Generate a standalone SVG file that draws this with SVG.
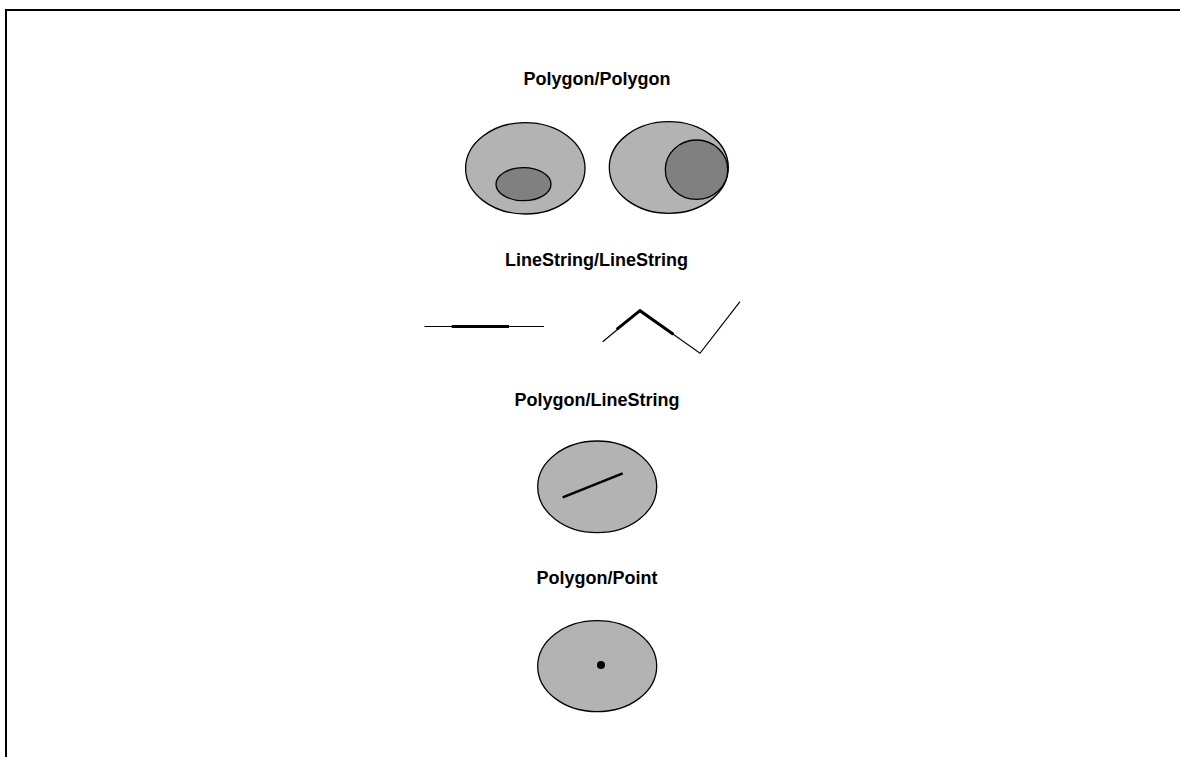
<svg xmlns="http://www.w3.org/2000/svg" width="1180" height="757" viewBox="0 0 1180 757">
<style>
.t{font-family:"Liberation Sans",Arial,sans-serif;font-weight:bold;font-size:18px;fill:#000;text-anchor:middle}
.big{fill:#b3b3b3;stroke:#000;stroke-width:1.3}
.small{fill:#808080;stroke:#000;stroke-width:1.3}
.ln{fill:none;stroke:#000;stroke-width:1.2;stroke-linejoin:miter}
.thick{fill:none;stroke:#000;stroke-width:3}
</style>
<rect x="0" y="0" width="1180" height="757" fill="#fff"/>
<path d="M6,757 V10 H1180" fill="none" stroke="#000" stroke-width="2"/>
<g id="polygon-polygon">
<text class="t" x="597" y="85">Polygon/Polygon</text>
<ellipse class="big" cx="525.3" cy="168.3" rx="59.7" ry="45.7"/>
<ellipse class="small" cx="523.5" cy="184.2" rx="27.5" ry="16.5"/>
<ellipse class="big" cx="668.8" cy="167.5" rx="59.5" ry="45.8"/>
<ellipse class="small" cx="696.5" cy="169.7" rx="31.2" ry="29.7"/>
</g>
<g id="linestring-linestring">
<text class="t" x="596.5" y="266">LineString/LineString</text>
<line class="ln" x1="424.5" y1="326.5" x2="544" y2="326.5"/>
<line class="thick" x1="451.7" y1="326.5" x2="509" y2="326.5"/>
<polyline class="ln" points="602.7,341.7 640,310.7 700,353.3 740,301.7"/>
<polyline class="thick" points="616.7,329.3 640,310.7 673.3,334.2"/>
</g>
<g id="polygon-linestring">
<text class="t" x="597" y="406">Polygon/LineString</text>
<ellipse class="big" cx="597.2" cy="486.8" rx="59.5" ry="45.8"/>
<line x1="562.7" y1="497.3" x2="622.7" y2="473.3" stroke="#000" stroke-width="2.5"/>
</g>
<g id="polygon-point">
<text class="t" x="597" y="584">Polygon/Point</text>
<ellipse class="big" cx="597.2" cy="666.2" rx="59.5" ry="45.5"/>
<circle cx="601" cy="665" r="4" fill="#000"/>
</g>
</svg>
